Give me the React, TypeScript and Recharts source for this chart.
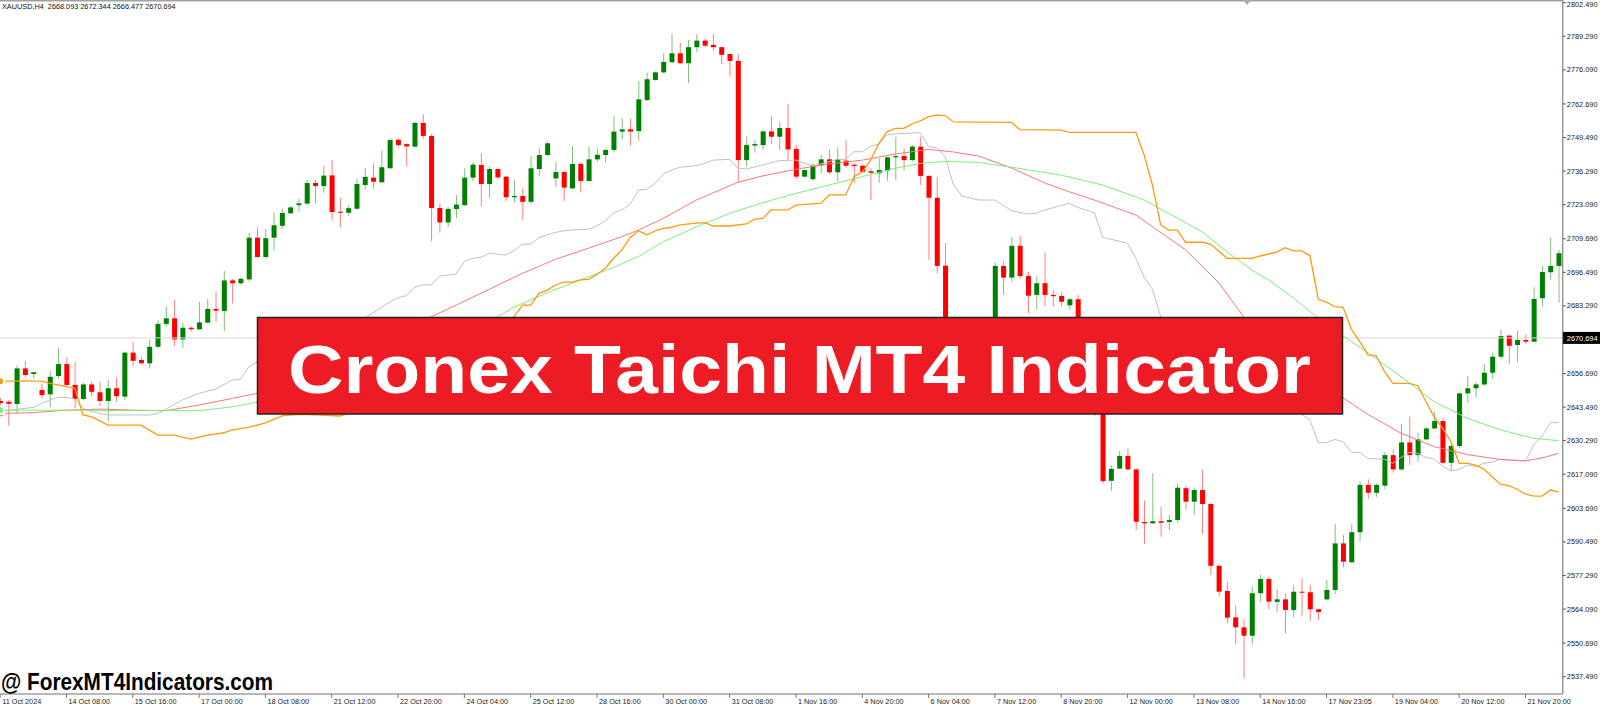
import React from 'react';
import { ComposedChart, Bar, Line, XAxis, YAxis, ReferenceLine } from 'recharts';

// XAUUSD H4 candles: [open, high, low, close]
const OHLC: [number, number, number, number][] = [
  [2645.9, 2647.1, 2642.3, 2645.1], [2645.6, 2646.3, 2636.1, 2644.8], [2644.7, 2660.0, 2641.0, 2658.7], [2658.7, 2661.6, 2655.2, 2656.1],
  [2656.5, 2657.4, 2654.8, 2657.2], [2650.2, 2652.8, 2646.9, 2648.2], [2648.5, 2657.7, 2643.4, 2655.4], [2655.7, 2666.8, 2654.8, 2660.4],
  [2660.4, 2663.1, 2651.8, 2652.2], [2652.2, 2661.3, 2643.0, 2646.7], [2646.7, 2653.0, 2646.3, 2652.4], [2652.4, 2653.5, 2647.6, 2649.5],
  [2649.3, 2653.5, 2643.9, 2645.9], [2645.9, 2654.1, 2638.1, 2650.9], [2650.9, 2655.2, 2645.6, 2647.8], [2647.6, 2665.3, 2646.3, 2664.9],
  [2664.9, 2669.0, 2659.4, 2661.7], [2662.0, 2663.3, 2660.4, 2660.7], [2660.7, 2670.1, 2658.7, 2667.2], [2667.2, 2677.7, 2666.6, 2676.2],
  [2676.2, 2683.0, 2675.1, 2678.4], [2678.4, 2685.6, 2667.5, 2670.1], [2670.1, 2676.7, 2666.8, 2674.7], [2674.7, 2675.1, 2673.4, 2674.1],
  [2674.1, 2684.9, 2673.8, 2676.8], [2676.7, 2686.0, 2676.4, 2682.1], [2682.1, 2688.9, 2677.1, 2681.4], [2681.3, 2697.0, 2673.4, 2693.3],
  [2693.3, 2693.9, 2684.3, 2692.2], [2692.2, 2694.5, 2691.5, 2693.9], [2693.7, 2712.1, 2692.8, 2710.1], [2710.1, 2714.2, 2702.0, 2702.5],
  [2702.5, 2713.4, 2701.8, 2709.9], [2710.1, 2720.1, 2705.0, 2715.0], [2714.8, 2721.5, 2713.6, 2719.8], [2719.7, 2722.6, 2719.4, 2722.0],
  [2722.9, 2725.3, 2720.3, 2723.6], [2723.5, 2732.8, 2722.9, 2731.6], [2731.6, 2732.8, 2723.6, 2730.4], [2730.4, 2738.3, 2727.8, 2734.5],
  [2734.6, 2740.6, 2716.8, 2720.2], [2720.3, 2725.8, 2714.2, 2719.9], [2719.9, 2722.7, 2718.7, 2721.7], [2721.5, 2733.2, 2721.0, 2731.2],
  [2730.8, 2737.4, 2729.1, 2734.0], [2733.7, 2739.3, 2729.4, 2732.1], [2731.9, 2744.3, 2731.5, 2737.8], [2737.4, 2749.2, 2737.1, 2748.5],
  [2748.6, 2749.2, 2745.9, 2746.5], [2746.9, 2747.2, 2738.0, 2746.0], [2745.9, 2755.7, 2745.5, 2755.2], [2755.2, 2758.6, 2749.0, 2750.1],
  [2750.1, 2750.9, 2708.7, 2721.8], [2721.8, 2723.6, 2712.1, 2716.1], [2716.1, 2722.3, 2714.2, 2721.4], [2721.4, 2726.9, 2717.7, 2723.1],
  [2722.9, 2737.4, 2722.7, 2733.7], [2733.7, 2739.7, 2732.4, 2738.8], [2738.7, 2743.3, 2722.3, 2731.2], [2731.2, 2738.0, 2725.8, 2737.1],
  [2737.1, 2737.4, 2733.4, 2733.8], [2734.1, 2734.5, 2724.5, 2726.0], [2726.0, 2732.8, 2723.9, 2726.5], [2726.5, 2729.5, 2717.1, 2724.2],
  [2724.2, 2742.2, 2723.3, 2737.4], [2737.1, 2745.2, 2734.1, 2742.6], [2742.6, 2748.1, 2742.3, 2747.2], [2733.4, 2740.0, 2730.1, 2735.9],
  [2735.9, 2736.4, 2724.5, 2729.8], [2729.5, 2746.1, 2729.1, 2739.1], [2739.1, 2739.7, 2727.9, 2732.4], [2732.4, 2745.9, 2732.1, 2740.9],
  [2740.9, 2745.2, 2740.0, 2742.7], [2742.6, 2745.0, 2739.7, 2744.6], [2744.6, 2757.9, 2743.7, 2751.8], [2751.8, 2757.0, 2748.8, 2752.7],
  [2752.7, 2757.0, 2746.3, 2751.8], [2752.0, 2771.7, 2748.2, 2764.5], [2764.2, 2775.0, 2763.9, 2772.4], [2772.1, 2775.5, 2771.8, 2775.1],
  [2775.1, 2782.6, 2774.7, 2779.2], [2779.1, 2790.2, 2778.7, 2782.6], [2782.6, 2786.8, 2778.4, 2778.7], [2778.7, 2787.8, 2771.0, 2785.0],
  [2785.0, 2790.2, 2783.2, 2787.6], [2787.6, 2788.5, 2785.0, 2785.6], [2785.9, 2790.2, 2783.6, 2785.0], [2785.0, 2785.2, 2778.3, 2782.0],
  [2782.3, 2782.6, 2773.4, 2779.6], [2779.6, 2782.2, 2731.9, 2740.6], [2740.6, 2749.8, 2738.0, 2746.5], [2746.3, 2748.5, 2743.5, 2746.9],
  [2746.5, 2752.1, 2744.8, 2751.9], [2751.9, 2757.9, 2746.9, 2749.8], [2749.8, 2755.7, 2744.6, 2753.2], [2753.2, 2762.5, 2740.6, 2744.8],
  [2745.0, 2746.5, 2733.1, 2734.1], [2734.1, 2737.0, 2733.7, 2736.7], [2733.1, 2739.3, 2732.5, 2738.6], [2738.6, 2742.6, 2735.4, 2740.9],
  [2740.9, 2744.8, 2735.1, 2735.8], [2735.8, 2745.6, 2732.1, 2740.9], [2740.4, 2748.5, 2737.6, 2738.4], [2738.8, 2739.3, 2731.7, 2738.3],
  [2738.4, 2738.7, 2735.6, 2736.0], [2736.2, 2737.4, 2724.9, 2735.6], [2735.4, 2741.3, 2731.7, 2736.7], [2736.4, 2741.9, 2732.5, 2741.7],
  [2741.7, 2749.8, 2732.8, 2742.2], [2742.2, 2745.2, 2736.4, 2740.6], [2740.6, 2746.5, 2740.0, 2745.9], [2745.9, 2749.8, 2730.8, 2734.4],
  [2734.4, 2734.6, 2701.3, 2725.8], [2725.8, 2734.1, 2696.1, 2699.0], [2699.1, 2708.1, 2670.6, 2673.8], [2673.8, 2678.0, 2662.0, 2665.0],
  [2665.0, 2672.0, 2660.0, 2669.0], [2669.0, 2671.0, 2655.0, 2658.0], [2658.0, 2666.0, 2654.0, 2663.0], [2663.0, 2671.0, 2660.0, 2668.0],
  [2668.0, 2700.3, 2665.0, 2699.0], [2699.0, 2700.7, 2687.6, 2694.4], [2694.4, 2710.5, 2692.8, 2706.9], [2706.9, 2710.8, 2694.1, 2695.0],
  [2695.0, 2696.7, 2680.4, 2687.3], [2687.6, 2695.0, 2681.9, 2692.2], [2692.2, 2704.2, 2683.2, 2687.6], [2687.6, 2689.5, 2683.0, 2687.1],
  [2687.2, 2688.6, 2683.0, 2684.9], [2683.5, 2686.3, 2681.7, 2685.9], [2685.9, 2687.6, 2665.0, 2667.9], [2667.9, 2670.0, 2650.0, 2655.0],
  [2655.0, 2658.0, 2640.0, 2644.0], [2644.0, 2646.0, 2613.5, 2614.4], [2614.5, 2620.7, 2610.6, 2619.2], [2619.3, 2626.2, 2619.0, 2624.3],
  [2624.3, 2627.3, 2618.8, 2619.0], [2619.0, 2619.4, 2595.2, 2598.4], [2598.3, 2606.7, 2589.7, 2597.8], [2597.8, 2617.5, 2597.5, 2598.6],
  [2598.6, 2604.3, 2592.5, 2598.0], [2598.3, 2601.1, 2595.2, 2599.1], [2599.1, 2613.5, 2598.0, 2611.8], [2611.6, 2612.5, 2603.3, 2606.3],
  [2606.3, 2611.6, 2601.1, 2610.9], [2610.9, 2619.0, 2593.6, 2605.4], [2605.4, 2605.7, 2577.5, 2581.1], [2581.1, 2581.4, 2569.2, 2570.9],
  [2571.2, 2574.8, 2558.7, 2560.7], [2560.8, 2565.3, 2550.3, 2556.9], [2556.9, 2560.0, 2536.8, 2553.6], [2553.6, 2572.9, 2550.2, 2570.3],
  [2570.3, 2577.5, 2567.0, 2575.9], [2575.9, 2576.8, 2564.0, 2567.0], [2566.9, 2571.8, 2563.0, 2567.9], [2567.9, 2570.0, 2554.5, 2563.7],
  [2563.7, 2573.5, 2560.8, 2570.9], [2570.9, 2576.2, 2561.3, 2570.5], [2570.7, 2573.5, 2559.5, 2564.0], [2564.0, 2564.2, 2559.8, 2562.9],
  [2567.9, 2575.5, 2567.6, 2571.6], [2571.6, 2597.5, 2570.0, 2589.9], [2589.9, 2593.2, 2580.5, 2582.7], [2582.5, 2597.4, 2582.1, 2594.3],
  [2594.3, 2614.2, 2590.6, 2612.9], [2612.9, 2615.1, 2607.3, 2609.8], [2609.8, 2613.5, 2608.2, 2612.9], [2612.6, 2625.9, 2611.2, 2624.6],
  [2624.6, 2626.9, 2617.7, 2619.0], [2619.0, 2636.8, 2618.5, 2629.6], [2629.6, 2639.7, 2620.7, 2624.6], [2624.6, 2633.4, 2622.0, 2630.8],
  [2630.8, 2635.8, 2630.5, 2635.1], [2635.1, 2641.7, 2634.8, 2638.0], [2638.0, 2639.1, 2621.4, 2621.6], [2621.6, 2628.9, 2618.5, 2628.2],
  [2628.2, 2649.1, 2627.3, 2648.9], [2648.9, 2655.7, 2645.2, 2650.9], [2650.9, 2653.2, 2647.3, 2652.4], [2652.4, 2660.4, 2651.9, 2657.0],
  [2657.0, 2664.9, 2654.6, 2663.3], [2663.3, 2673.8, 2662.3, 2671.4], [2671.6, 2671.8, 2660.4, 2667.6], [2667.9, 2673.5, 2661.3, 2669.9],
  [2669.9, 2672.1, 2668.3, 2669.2], [2669.2, 2690.6, 2669.0, 2686.0], [2686.3, 2699.0, 2683.0, 2696.6], [2696.5, 2710.2, 2693.5, 2699.0],
  [2699.0, 2705.3, 2684.5, 2704.0],
];

// indicator lines, sampled as [bar index, price]
const GRAY_LINE: [number, number][] = [
  [0, 2641.7], [2, 2642.6], [4, 2643.4], [6, 2646.3], [7, 2647.3], [8, 2647.3], [9, 2646.7], [10, 2643.0], [11, 2641.7], [13, 2640.4],
  [18, 2640.4], [19, 2641.0], [20, 2642.7], [22, 2646.3], [24, 2648.9], [26, 2650.6], [28, 2654.1], [29, 2654.5], [30, 2659.3], [31, 2661.3],
  [44, 2678.5], [47, 2684.8], [48, 2686.5], [49, 2687.3], [50, 2690.6], [51, 2691.6], [52, 2691.5], [53, 2695.0], [55, 2695.8], [56, 2700.7],
  [57, 2702.0], [58, 2702.4], [59, 2704.0], [60, 2703.6], [61, 2703.3], [62, 2705.0], [63, 2707.5], [64, 2707.6], [65, 2710.1], [66, 2711.2],
  [67, 2712.2], [68, 2712.8], [69, 2713.1], [71, 2713.4], [72, 2714.7], [73, 2716.7], [74, 2719.8], [75, 2721.0], [76, 2723.3], [77, 2728.8],
  [78, 2729.1], [79, 2731.5], [80, 2735.1], [81, 2736.7], [82, 2737.8], [84, 2738.4], [85, 2739.3], [86, 2740.6], [88, 2740.9], [89, 2737.4],
  [90, 2737.1], [92, 2738.7], [94, 2740.4], [96, 2740.6], [98, 2738.4], [99, 2739.1], [101, 2740.9], [102, 2740.9], [103, 2743.9], [104, 2743.9],
  [105, 2746.1], [106, 2746.9], [107, 2750.5], [108, 2750.9], [111, 2751.4], [112, 2745.9], [113, 2745.5], [114, 2741.9], [115, 2730.8], [116, 2726.5],
  [118, 2724.9], [120, 2724.9], [122, 2720.7], [124, 2719.4], [125, 2719.7], [126, 2721.0], [129, 2723.6], [130, 2722.0], [132, 2719.9], [133, 2710.2],
  [134, 2709.5], [136, 2707.9], [137, 2702.0], [138, 2694.5], [139, 2689.8], [140, 2679.0], [158, 2638.4], [159, 2629.5], [160, 2629.5], [161, 2630.8],
  [162, 2629.9], [163, 2625.7], [164, 2625.7], [165, 2623.3], [166, 2623.1], [167, 2623.0], [168, 2621.4], [169, 2623.7], [170, 2625.7], [171, 2625.3],
  [172, 2623.7], [173, 2623.0], [174, 2620.3], [175, 2618.4], [176, 2619.0], [177, 2620.7], [178, 2620.1], [179, 2621.4], [180, 2621.8], [181, 2623.0],
  [182, 2622.7], [184, 2622.4], [185, 2628.6], [186, 2632.1], [187, 2637.4], [188, 2637.4],
];

const RED_LINE: [number, number][] = [
  [0, 2641.0], [4, 2641.3], [8, 2642.3], [12, 2642.7], [16, 2642.3], [20, 2642.1], [24, 2644.3], [28, 2646.9], [31, 2648.9], [52, 2679.0],
  [55, 2683.6], [59, 2689.8], [63, 2696.1], [67, 2701.6], [71, 2706.0], [75, 2710.5], [77, 2713.1], [80, 2717.7], [84, 2724.9], [89, 2731.9],
  [92, 2734.4], [96, 2737.0], [100, 2739.1], [104, 2740.6], [108, 2743.0], [112, 2744.8], [115, 2743.8], [118, 2742.2], [122, 2737.5], [126, 2731.6],
  [129, 2728.1], [132, 2724.9], [137, 2719.0], [139, 2714.4], [143, 2705.3], [147, 2692.4], [150, 2679.0], [162, 2647.1], [165, 2640.6], [169, 2633.2],
  [173, 2627.9], [177, 2624.8], [181, 2622.9], [184, 2622.3], [186, 2623.5], [188, 2625.3],
];

const GREEN_LINE: [number, number][] = [
  [0, 2642.3], [8, 2642.3], [16, 2642.1], [24, 2642.1], [28, 2643.6], [31, 2645.4], [60, 2679.0], [62, 2682.8], [66, 2688.5], [70, 2693.5],
  [74, 2698.4], [77, 2702.7], [80, 2708.5], [84, 2714.4], [88, 2719.7], [92, 2723.9], [96, 2727.5], [100, 2730.8], [104, 2734.1], [108, 2737.4],
  [111, 2739.3], [114, 2740.1], [118, 2739.7], [123, 2737.3], [128, 2734.7], [133, 2730.8], [138, 2724.9], [145, 2712.4], [148, 2704.5], [151, 2697.4],
  [153, 2693.5], [156, 2686.4], [159, 2678.5], [162, 2671.4], [165, 2664.9], [169, 2655.4], [173, 2645.6], [177, 2639.1], [181, 2634.5], [185, 2631.2],
  [188, 2630.3],
];

const ORANGE_LINE: [number, number][] = [
  [0, 2653.7], [5, 2653.7], [6, 2652.8], [8, 2651.5], [9, 2651.0], [10, 2640.4], [11, 2639.7], [13, 2636.4], [17, 2636.4], [19, 2632.5],
  [21, 2632.5], [23, 2630.9], [25, 2632.5], [27, 2633.4], [28, 2634.5], [30, 2635.5], [32, 2637.3], [34, 2640.0], [36, 2640.6], [38, 2640.4],
  [41, 2640.0], [42, 2641.0], [62, 2679.0], [63, 2683.6], [64, 2683.6], [65, 2688.2], [66, 2689.5], [67, 2691.5], [68, 2692.6], [69, 2692.6],
  [70, 2693.5], [71, 2693.7], [72, 2695.7], [73, 2698.1], [74, 2702.0], [75, 2705.3], [76, 2710.2], [77, 2712.8], [78, 2711.2], [79, 2712.8],
  [80, 2713.8], [81, 2714.2], [82, 2715.1], [84, 2715.8], [85, 2716.0], [86, 2714.7], [88, 2714.7], [90, 2715.5], [91, 2717.4], [92, 2717.7],
  [93, 2721.0], [95, 2721.0], [96, 2722.9], [97, 2723.2], [99, 2723.6], [100, 2726.9], [102, 2726.9], [103, 2734.1], [104, 2736.0], [105, 2740.6],
  [106, 2747.2], [107, 2751.8], [108, 2753.1], [109, 2753.1], [110, 2754.8], [111, 2756.0], [112, 2757.7], [113, 2758.3], [114, 2758.1], [115, 2755.6],
  [122, 2755.4], [123, 2752.6], [128, 2752.4], [129, 2751.5], [137, 2751.5], [138, 2742.6], [139, 2730.8], [140, 2715.1], [141, 2713.1], [142, 2713.1],
  [143, 2708.3], [145, 2708.3], [146, 2707.6], [148, 2702.0], [151, 2702.0], [152, 2702.9], [154, 2704.4], [155, 2706.2], [156, 2704.9], [157, 2704.9],
  [158, 2703.0], [159, 2686.0], [160, 2684.7], [161, 2683.0], [162, 2682.7], [163, 2674.1], [164, 2669.2], [165, 2664.0], [166, 2663.6], [167, 2657.4],
  [168, 2652.8], [170, 2652.8], [171, 2651.9], [172, 2645.6], [173, 2639.5], [174, 2635.1], [175, 2629.9], [176, 2621.4], [177, 2621.4], [178, 2620.7],
  [179, 2619.0], [180, 2616.1], [181, 2613.1], [182, 2612.6], [183, 2611.2], [184, 2609.3], [185, 2608.5], [186, 2608.5], [187, 2610.9], [188, 2610.2],
];

// one label every 8 bars
const X_LABELS = [
  '11 Oct 2024', '14 Oct 08:00', '15 Oct 16:00', '17 Oct 00:00', '18 Oct 08:00', '21 Oct 12:00', '22 Oct 20:00', '24 Oct 04:00',
  '25 Oct 12:00', '28 Oct 16:00', '30 Oct 00:00', '31 Oct 08:00', '1 Nov 16:00', '4 Nov 20:00', '6 Nov 04:00', '7 Nov 12:00',
  '8 Nov 20:00', '12 Nov 00:00', '13 Nov 08:00', '14 Nov 16:00', '17 Nov 23:05', '19 Nov 04:00', '20 Nov 12:00', '21 Nov 20:00',
];

const PRICE_TICKS = [
  2802.49, 2789.29, 2776.09, 2762.69, 2749.49, 2736.29, 2723.09, 2709.69, 2696.49, 2683.29,
  2656.69, 2643.49, 2630.29, 2617.09, 2603.69, 2590.49, 2577.29, 2564.09, 2550.69, 2537.49,
];
const PRICE_DOMAIN: [number, number] = [2530.69, 2803.55];
const LAST_PRICE = 2670.694;
const HEADER = 'XAUUSD,H4  2668.093 2672.344 2666.477 2670.694';
const TITLE = 'Cronex Taichi MT4 Indicator';
const WATERMARK = '@ ForexMT4Indicators.com';

const STEP = 8.29;
const PLOT_H = 694;
const AXIS_W = 38;
const FONT = '"Liberation Sans", Arial, sans-serif';

const UP = '#008000';
const DOWN = '#ff0000';
const UP_WICK = '#7fbf7f';
const DOWN_WICK = '#ff8080';

const rows = OHLC.map(([o, h, l, c], i) => ({
  i, o, h, l, c, range: [l, h],
  gray: null as number | null, red: null as number | null,
  green: null as number | null, orange: null as number | null,
}));
GRAY_LINE.forEach(([i, v]) => { rows[i].gray = v; });
RED_LINE.forEach(([i, v]) => { rows[i].red = v; });
GREEN_LINE.forEach(([i, v]) => { rows[i].green = v; });
ORANGE_LINE.forEach(([i, v]) => { rows[i].orange = v; });

const PLOT_W = rows.length * STEP;

const Candle = (props: any) => {
  const { x, y, width, height, payload } = props;
  if (x == null || !payload) return null;
  const { o, h, l, c } = payload;
  const top = Math.min(y, y + height);
  const span = Math.abs(height);
  const k = h > l ? span / (h - l) : 0;
  const py = (v: number) => top + (h - v) * k;
  const up = c >= o;
  const bodyTop = py(Math.max(o, c));
  const bodyH = Math.max(1, py(Math.min(o, c)) - bodyTop);
  const cx = x + width / 2;
  return (
    <g>
      <line x1={cx} x2={cx} y1={top} y2={top + span} stroke={up ? UP_WICK : DOWN_WICK} strokeWidth={1} />
      <rect x={x} y={bodyTop} width={width} height={bodyH} fill={up ? UP : DOWN} />
    </g>
  );
};

const TimeTick = (props: any) => {
  const { x, payload } = props;
  const label = X_LABELS[Math.round(payload.value / 8)];
  if (!label) return null;
  return (
    <g>
      <line x1={x} x2={x} y1={PLOT_H} y2={PLOT_H + 4} stroke="#777" />
      <text x={x + 2} y={PLOT_H + 10} fontSize={7.3} fontFamily={FONT} fill="#222">{label}</text>
    </g>
  );
};

const PriceTick = (props: any) => {
  const { y, payload } = props;
  return (
    <g>
      <line x1={PLOT_W} x2={PLOT_W + 3} y1={y} y2={y} stroke="#555" />
      <text x={PLOT_W + 4} y={Math.max(y + 2.6, 6.6)} fontSize={7.4} fontFamily={FONT} fill="#222">{payload.value.toFixed(3)}</text>
    </g>
  );
};

const PriceTag = (props: any) => {
  const vb = props.viewBox;
  if (!vb) return null;
  const x = vb.x + vb.width;
  return (
    <g>
      <rect x={x} y={vb.y - 6} width={AXIS_W} height={12} fill="#000" />
      <text x={x + 4} y={vb.y + 2.6} fontSize={7.4} fontFamily={FONT} fill="#fff">{LAST_PRICE.toFixed(3)}</text>
    </g>
  );
};

export default function App() {
  return (
    <div style={{ position: 'relative', width: 1600, height: 708, overflow: 'hidden', background: '#fff' }}>
      <style>{'html,body{margin:0;padding:0;overflow:hidden;background:#fff}'}</style>
      <div style={{ position: 'absolute', left: -STEP / 2, top: 0 }}>
        <ComposedChart width={PLOT_W + AXIS_W} height={708} data={rows} margin={{ top: 0, right: 0, bottom: 0, left: 0 }}>
          <XAxis dataKey="i" type="category" interval={7} height={708 - PLOT_H}
            axisLine={{ stroke: '#a0a0a0', strokeWidth: 1.5 }} tickLine={false} tick={<TimeTick />} />
          <YAxis orientation="right" width={AXIS_W} type="number" domain={PRICE_DOMAIN} allowDataOverflow
            ticks={PRICE_TICKS} interval={0} axisLine={{ stroke: '#666' }} tickLine={false} tick={<PriceTick />} />
          <ReferenceLine y={LAST_PRICE} stroke="#d8d8d8" strokeWidth={1} label={PriceTag} />
          <Bar dataKey="range" barSize={5} shape={(p: any) => <Candle {...p} />} isAnimationActive={false} />
          <Line dataKey="gray" stroke="#c0c0c0" strokeWidth={1} dot={false} connectNulls isAnimationActive={false} />
          <Line dataKey="red" stroke="#ff7575" strokeWidth={1} dot={false} connectNulls isAnimationActive={false} />
          <Line dataKey="green" stroke="#78f078" strokeWidth={1} dot={false} connectNulls isAnimationActive={false} />
          <Line dataKey="orange" stroke="#ff9a10" strokeWidth={1.3} dot={false} connectNulls isAnimationActive={false} />
        </ComposedChart>
      </div>
      <svg width={1600} height={708} style={{ position: 'absolute', left: 0, top: 0, pointerEvents: 'none' }}>
        <line x1={0} x2={1562.7} y1={0.75} y2={0.75} stroke="#a0a0a0" strokeWidth={1.5} />
        <polygon points="1243,0 1251,0 1247,5" fill="#aaa" />
        <text x={2} y={9.3} fontSize={7.3} fontFamily={FONT} fill="#111" style={{ whiteSpace: 'pre' }}>{HEADER}</text>
        <rect x={257.5} y={317.5} width={1085} height={96.5} fill="#ed1c24" stroke="#222" strokeWidth={1.5} />
        <text x={288} y={392.5} fontSize={68} fontWeight="bold" fontFamily={FONT} fill="#fff"
          textLength={1023} lengthAdjust="spacingAndGlyphs">{TITLE}</text>
        <text x={1} y={690} fontSize={24} fontWeight="bold" fontFamily={'"Liberation Sans Narrow", "Liberation Sans", Arial, sans-serif'}
          fill="#000" textLength={272} lengthAdjust="spacingAndGlyphs">{WATERMARK}</text>
      </svg>
    </div>
  );
}
